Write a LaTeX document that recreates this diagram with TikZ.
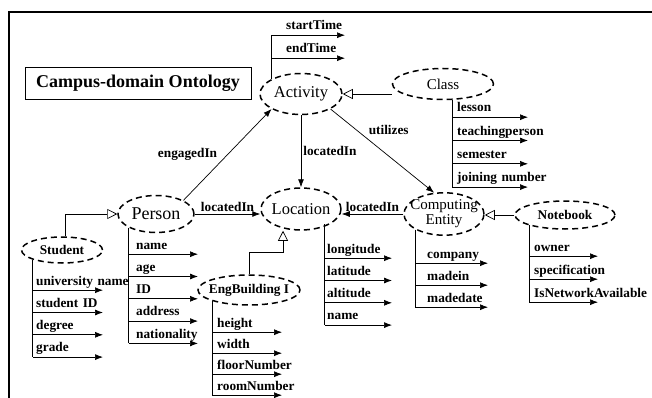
\documentclass[tikz,border=0pt]{standalone}
\usepackage{fontspec}
\setmainfont{Liberation Serif}
\usepackage{tikz}
\usetikzlibrary{positioning}
\usetikzlibrary{shapes,arrows.meta}
\usetikzlibrary{calc}
\tikzstyle{line} = [draw, -{Latex[length=8pt,width=6pt]}, line width=0.7pt]
\tikzstyle{term} = [draw, line width=0.7pt]
\tikzstyle{isa} = [draw, -{Triangle[open,length=10pt,width=10pt]}, line width=0.7pt]
\tikzstyle{concept} = [draw, ellipse, line width=1.5pt, dash pattern=on 6pt off 4pt, inner sep=0pt]
\tikzstyle{attr} = [font=\bfseries\fontsize{13.3}{15}\selectfont, text width=120pt, align=left, inner xsep=0pt, inner ysep=2pt, text height=9pt, text depth=3pt, node distance=22.3pt]
\tikzstyle{rel} = [font=\bfseries\fontsize{13.3}{15}\selectfont, inner sep=2pt]
\newcommand{\bigfont}{\fontsize{16.5}{18}\selectfont}
\newcommand{\smallbold}{\bfseries\fontsize{13.3}{15}\selectfont}

\begin{document}
\begin{tikzpicture}[x=1pt, y=-1pt]
  \useasboundingbox (0,0) rectangle (652,398);
  \draw[line width=2pt] (9,398) -- (9,12) -- (652,12);

  % ============================ Concepts ======================================

  \node[draw, line width=0.8pt, minimum width=226pt, minimum height=32pt, font=\bfseries\fontsize{18}{20}\selectfont] (title) at (138,83) {Campus-domain Ontology};
  \node[concept, minimum width=82pt, minimum height=41pt] (act) at (301,94) {\makebox[0pt]{\bigfont Activity}};
  \node[concept, minimum width=101pt, minimum height=31pt] (cls) at (443,84) {\makebox[0pt]{\fontsize{15}{17}\selectfont Class}};
  \node[concept, minimum width=80pt, minimum height=42pt] (loc) at (301,209) {\makebox[0pt]{\bigfont Location}};
  \node[concept, minimum width=76pt, minimum height=37pt] (person) at (156,214) {\makebox[0pt]{\fontsize{18}{20}\selectfont Person}};
  \node[concept, minimum width=81pt, minimum height=26pt] (student) at (62,250) {\makebox[0pt]{\smallbold Student}};
  \node[concept, minimum width=102pt, minimum height=30pt] (engb) at (249,290) {\makebox[0pt]{\smallbold EngBuilding I}};
  \node[concept, minimum width=80pt, minimum height=42pt] (ce) at (444,214) {\makebox[0pt]{\fontsize{15}{15}\selectfont\begin{tabular}{@{}c@{}}Computing\\Entity\end{tabular}}};
  \node[concept, minimum width=100pt, minimum height=28pt] (nb) at (565,215) {\makebox[0pt]{\smallbold Notebook}};

  % ============================= Relations ====================================

  \path[line] (act.south) -- node[rel, right] {locatedIn} (loc.north);
  \path[line] (person.north east) -- node[rel, left=8pt] {engagedIn} (act.south west);
  \path[line] (act.south east) -- node[rel, pos=0.25, right=10pt] {utilizes} (ce.115);
  \path[line] (person.east) -- node[rel, above] {locatedIn} (person.east -| loc.west);
  \path[line] (ce.west) -- node[rel, above] {locatedIn} (ce.west -| loc.east);
  \path[isa] (cls.west |- act.east) -- (act.east);
  \path[isa] ([xshift=3pt]student.north) |- (person.west);
  \path[isa] (engb.north) |- ([xshift=-18pt, yshift=-22pt]loc.south) -- ([xshift=-18pt]loc.south);
  \path[isa] (nb.west) -- (nb.west -| ce.east);

  % ============================= Attributes ===================================

  % Activity
  \node[attr, anchor=west, node distance=23pt] (ast) at (286,27) {startTime};
  \node[attr, below of=ast, node distance=23pt] (aet) {endTime};
  \coordinate (aend) at (345,0);
  \path[term] (act.north west) -- (act.north west |- ast.south);
  \path[line] (act.north west |- ast.south) -- (aend |- ast.south);
  \path[line] (act.north west |- aet.south) -- (aend |- aet.south);

  % Class
  \coordinate (ccol) at ([xshift=9pt]cls.south);
  \coordinate (cend) at (528,0);
  \node[attr, anchor=west] (cles) at (457,109) {lesson};
  \node[attr, below of=cles, node distance=23.3pt] (cteach) {teachingperson};
  \node[attr, below of=cteach, node distance=23.3pt] (csem) {semester};
  \node[attr, below of=csem, node distance=23.3pt] (cjoin) {joining number};
  \path[term] (ccol) -- (ccol |- cjoin.south);
  \path[line] (ccol |- cles.south) -- (cend |- cles.south);
  \path[line] (ccol |- cteach.south) -- (cend |- cteach.south);
  \path[line] (ccol |- csem.south) -- (cend |- csem.south);
  \path[line] (ccol |- cjoin.south) -- (cend |- cjoin.south);

  % Student
  \coordinate (send) at (103,0);
  \node[attr, anchor=west] (suni) at (36,282) {university name};
  \node[attr, below of=suni] (sid) {student ID};
  \node[attr, below of=sid] (sdeg) {degree};
  \node[attr, below of=sdeg] (sgra) {grade};
  \path[term] (student.south west) -- (student.south west |- sgra.south);
  \path[line] (student.south west |- suni.south) -- (send |- suni.south);
  \path[line] (student.south west |- sid.south) -- (send |- sid.south);
  \path[line] (student.south west |- sdeg.south) -- (send |- sdeg.south);
  \path[line] (student.south west |- sgra.south) -- (send |- sgra.south);

  % Person
  \coordinate (pend) at (198,0);
  \node[attr, anchor=west] (pname) at (136,246) {name};
  \node[attr, below of=pname] (page) {age};
  \node[attr, below of=page] (pid) {ID};
  \node[attr, below of=pid] (paddr) {address};
  \node[attr, below of=paddr] (pnat) {nationality};
  \path[term] (person.south west) -- (person.south west |- pnat.south);
  \path[line] (person.south west |- pname.south) -- (pend |- pname.south);
  \path[line] (person.south west |- page.south) -- (pend |- page.south);
  \path[line] (person.south west |- pid.south) -- (pend |- pid.south);
  \path[line] (person.south west |- paddr.south) -- (pend |- paddr.south);
  \path[line] (person.south west |- pnat.south) -- (pend |- pnat.south);

  % EngBuilding I
  \coordinate (eend) at (282,0);
  \node[attr, anchor=west] (ehei) at (217,324) {height};
  \node[attr, below of=ehei, node distance=21pt] (ewid) {width};
  \node[attr, below of=ewid, node distance=21pt] (eflo) {floorNumber};
  \node[attr, below of=eflo, node distance=21pt] (eroo) {roomNumber};
  \path[term] (engb.south west) -- (engb.south west |- eroo.south);
  \path[line] (engb.south west |- ehei.south) -- (eend |- ehei.south);
  \path[line] (engb.south west |- ewid.south) -- (eend |- ewid.south);
  \path[line] (engb.south west |- eflo.south) -- (eend |- eflo.south);
  \path[line] (engb.south west |- eroo.south) -- (eend |- eroo.south);

  % Location
  \coordinate (lcol) at ([xshift=-5pt]loc.south east);
  \coordinate (lend) at (392,0);
  \node[attr, anchor=west] (llon) at (327,250) {longitude};
  \node[attr, below of=llon] (llat) {latitude};
  \node[attr, below of=llat] (lalt) {altitude};
  \node[attr, below of=lalt] (lname) {name};
  \path[term] (lcol) -- (lcol |- lname.south);
  \path[line] (lcol |- llon.south) -- (lend |- llon.south);
  \path[line] (lcol |- llat.south) -- (lend |- llat.south);
  \path[line] (lcol |- lalt.south) -- (lend |- lalt.south);
  \path[line] (lcol |- lname.south) -- (lend |- lname.south);

  % Computing Entity
  \coordinate (cee) at (488,0);
  \node[attr, anchor=west] (ccom) at (427,255) {company};
  \node[attr, below of=ccom, node distance=22pt] (cmin) {madein};
  \node[attr, below of=cmin, node distance=22pt] (cmdt) {madedate};
  \path[term] (ce.south west) -- (ce.south west |- cmdt.south);
  \path[line] (ce.south west |- ccom.south) -- (cee |- ccom.south);
  \path[line] (ce.south west |- cmin.south) -- (cee |- cmin.south);
  \path[line] (ce.south west |- cmdt.south) -- (cee |- cmdt.south);

  % Notebook
  \coordinate (nend) at (598,0);
  \node[attr, anchor=west] (nown) at (534,248) {owner};
  \node[attr, below of=nown, node distance=23pt] (nspe) {specification};
  \node[attr, below of=nspe, node distance=23pt] (nnet) {IsNetworkAvailable};
  \path[term] (nb.south west) -- (nb.south west |- nnet.south);
  \path[line] (nb.south west |- nown.south) -- (nend |- nown.south);
  \path[line] (nb.south west |- nspe.south) -- (nend |- nspe.south);
  \path[line] (nb.south west |- nnet.south) -- (nend |- nnet.south);

\end{tikzpicture}
\end{document}
